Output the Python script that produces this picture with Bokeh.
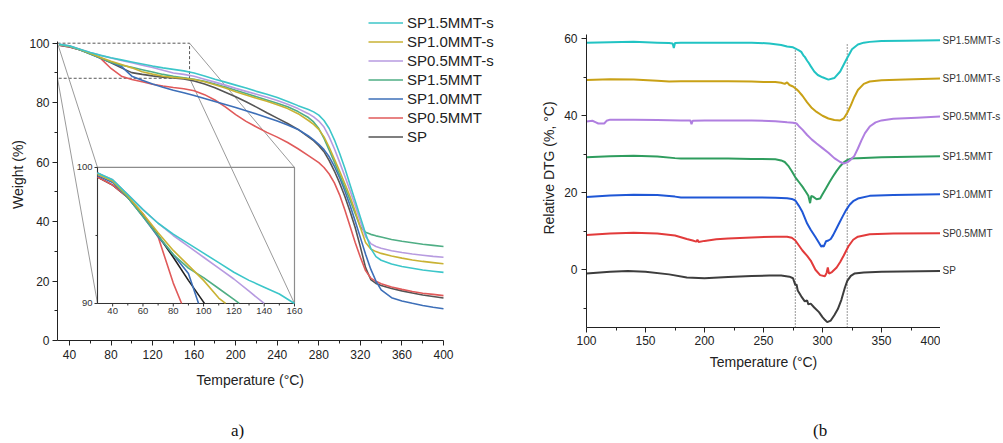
import math
from bokeh.plotting import figure
from bokeh.layouts import row, column
from bokeh.models import (Range1d, FixedTicker, Legend, LegendItem, Div, Title)
from bokeh.embed import file_html
from bokeh.resources import INLINE
from bokeh.core.properties import value

FONT = "Liberation Sans"
SERIF = "Liberation Serif"

# ---------------- data: TGA (panel a) ----------------
NAMES = ["SP1.5MMT-s", "SP1.0MMT-s", "SP0.5MMT-s", "SP1.5MMT", "SP1.0MMT", "SP0.5MMT", "SP"]

TGA_T = [30, 40, 50, 60, 70, 80, 90, 100, 110, 120, 130, 140, 150, 160,
         170, 180, 190, 200, 210, 220, 230, 240, 250, 260, 270,
         275, 280, 285, 290, 295, 300, 305, 310, 315, 320, 325, 330, 335, 340,
         350, 360, 370, 380, 390, 400]

TGA_SP15S = [99.6, 99.1, 98.0, 96.9, 95.9, 95.1, 94.4, 93.7, 93.0, 92.3, 91.7, 91.2, 90.7, 90.0,
             89.0, 87.9, 86.9, 85.9, 84.9, 83.8, 82.8, 81.7, 80.4, 79.0, 77.7,
             76.9, 75.8, 74.0, 71.3, 67.5, 63.0, 58.0, 52.5, 47.0, 41.5, 36.0, 31.0, 28.2, 27.0,
             25.7, 24.9, 24.3, 23.7, 23.3, 22.9]
TGA_SP10S = [99.5, 99.0, 97.9, 96.6, 95.2, 93.9, 92.8, 91.7, 90.4, 89.6, 88.9, 88.5, 88.2, 87.8,
             87.0, 86.0, 84.9, 83.7, 82.6, 81.5, 80.5, 79.3, 78.0, 76.3, 74.0,
             72.7, 71.0, 68.5, 65.0, 61.0, 57.0, 52.8, 48.5, 43.5, 38.0, 33.0, 30.8, 29.9, 29.3,
             28.4, 27.7, 27.1, 26.6, 26.2, 25.8]
TGA_SP05S = [99.6, 99.1, 98.0, 96.9, 95.9, 95.0, 94.2, 93.4, 92.6, 91.8, 90.9, 90.0, 89.5, 88.9,
             87.9, 86.9, 85.9, 84.8, 83.8, 82.8, 81.8, 80.7, 79.5, 78.0, 76.3,
             75.2, 73.8, 71.8, 68.5, 64.5, 60.0, 55.3, 50.5, 45.5, 40.0, 35.0, 32.6, 31.6, 31.0,
             30.2, 29.6, 29.1, 28.7, 28.3, 28.0]
TGA_SP15 = [99.6, 99.0, 97.8, 96.4, 95.0, 93.6, 92.6, 91.9, 91.1, 90.3, 89.5, 88.9, 88.4, 87.9,
            87.2, 86.3, 85.3, 84.2, 83.1, 82.0, 80.9, 79.8, 78.6, 77.0, 75.0,
            73.5, 71.3, 68.0, 64.0, 60.0, 55.8, 51.6, 47.3, 42.7, 38.2, 36.4, 35.7, 35.2, 34.8,
            34.0, 33.4, 32.9, 32.4, 32.0, 31.6]
TGA_SP10 = [99.4, 98.9, 97.8, 96.4, 94.9, 93.6, 92.2, 88.9, 87.5, 86.3, 85.2, 84.2, 83.3, 82.4,
            81.4, 80.4, 79.4, 78.4, 77.3, 76.2, 75.0, 73.8, 72.5, 71.0, 68.8,
            67.5, 66.0, 64.2, 61.8, 58.6, 54.8, 50.4, 45.5, 40.2, 34.6, 29.0, 24.0, 20.0, 17.0,
            14.4, 13.3, 12.5, 11.8, 11.2, 10.7]
TGA_SP05 = [99.3, 98.7, 97.8, 96.6, 94.9, 91.5, 88.9, 87.8, 87.0, 86.2, 85.6, 85.1, 84.7, 84.0,
            82.7, 80.9, 78.6, 76.0, 73.7, 71.8, 70.0, 68.4, 66.6, 64.5, 62.2,
            61.0, 59.8, 58.2, 56.0, 53.0, 49.0, 44.0, 38.5, 33.0, 28.0, 23.5, 21.0, 19.9, 19.1,
            18.0, 17.2, 16.5, 15.9, 15.5, 15.1]
TGA_SP = [99.3, 98.7, 97.8, 96.5, 95.0, 93.4, 91.7, 90.1, 89.5, 89.0, 88.6, 88.3, 88.0, 87.3,
          86.3, 85.0, 83.5, 82.0, 80.3, 78.5, 76.6, 74.8, 73.0, 71.0, 68.5,
          67.2, 65.5, 63.5, 60.5, 57.0, 53.0, 48.5, 43.5, 38.0, 31.5, 24.5, 20.5, 19.2, 18.5,
          17.5, 16.7, 16.0, 15.3, 14.8, 14.3]

TGA_SERIES = [TGA_SP15S, TGA_SP10S, TGA_SP05S, TGA_SP15, TGA_SP10, TGA_SP05, TGA_SP]
TGA_COLORS = ["#3cc6c9", "#c9b234", "#b79be0", "#4fae85", "#3d6fb8", "#e05a5a", "#555555"]

TGA_XTICKS = [40, 80, 120, 160, 200, 240, 280, 320, 360, 400]
TGA_XMINOR = [60, 100, 140, 180, 220, 260, 300, 340, 380]
TGA_YTICKS = [0, 20, 40, 60, 80, 100]
TGA_YMINOR = [10, 30, 50, 70, 90]

# inset (zoom of 30-160 °C, 90-100 %): temperature where each curve leaves the inset at 90 %
INSET_X = (30, 160)
INSET_Y = (90, 100)
INSET_END_T = [160, 114.5, 140, 123.5, 96.7, 85.5, 100.5]
INSET_XTICKS = [40, 60, 80, 100, 120, 140, 160]
INSET_XMINOR = [50, 70, 90, 110, 130, 150]
INSET_YTICKS = [90, 100]
INSET_YMINOR = [95]

# zoom box in main axes and where the inset frame sits in main-axis units
ZOOM_X = (28.5, 155.6)
ZOOM_Y = (88.2, 100.0)
INSET_AT_X = (67.0, 256.6)
INSET_AT_Y = (12.45, 58.2)

# ---------------- data: DTG (panel b) ----------------
DTG_T_SP15S = [100, 120, 140, 160, 170, 173, 174, 175, 180, 200, 220, 240, 255, 260, 265, 270, 275, 278,
               280, 282, 284, 285, 287, 288, 290, 293, 296, 300, 305, 310, 315, 320, 325, 330, 335, 340,
               350, 370, 400]
DTG_SP15S = [59.0, 59.1, 59.2, 59.0, 58.9, 58.8, 57.6, 58.9, 59.0, 59.0, 59.0, 59.0, 58.8, 58.6, 58.4, 58.0,
             57.8, 57.3, 57.0, 56.6, 55.6, 55.3, 54.3, 53.9, 52.9, 51.5, 50.6, 50.0, 49.4, 49.8, 51.5, 54.5,
             57.3, 58.5, 59.0, 59.2, 59.4, 59.5, 59.6]
DTG_T_SP10S = [100, 120, 140, 160, 170, 180, 200, 220, 240, 250, 260, 265, 268, 270, 272, 275, 278, 280,
               283, 287, 291, 295, 300, 305, 310, 315, 318, 321, 324, 327, 330, 335, 340, 350, 370, 400]
DTG_SP10S = [49.3, 49.5, 49.4, 49.1, 48.9, 49.0, 49.0, 49.0, 48.9, 48.8, 48.8, 48.6, 48.3, 48.7, 48.0, 47.6,
             46.9, 46.3, 45.2, 43.5, 42.0, 41.0, 40.0, 39.3, 38.9, 38.8, 39.3, 40.8, 42.7, 44.9, 46.7, 48.3,
             48.9, 49.2, 49.4, 49.7]
DTG_T_SP05S = [100, 105, 108, 110, 115, 117, 120, 140, 160, 180, 188, 189, 190, 200, 220, 240, 260, 270,
               275, 278, 280, 283, 287, 291, 295, 300, 305, 310, 315, 318, 321, 324, 327, 330, 333, 336,
               340, 345, 350, 360, 380, 400]
DTG_SP05S = [38.5, 38.7, 38.3, 38.0, 38.0, 38.7, 39.0, 39.0, 38.9, 38.8, 38.8, 37.8, 38.7, 38.8, 38.8, 38.8,
             38.6, 38.3, 38.2, 38.0, 37.3, 36.4, 35.0, 33.8, 32.8, 31.6, 30.4, 29.0, 28.0, 27.6, 27.9, 28.6,
             29.6, 31.5, 33.6, 35.5, 37.2, 38.3, 38.8, 39.2, 39.5, 39.8]
DTG_T_SP15 = [100, 120, 140, 160, 175, 180, 200, 220, 240, 260, 265, 268, 271, 274, 277, 280, 283, 286,
              288, 289.5, 290.5, 292, 295, 298, 300, 303, 306, 309, 312, 315, 318, 321, 325, 330, 350, 400]
DTG_SP15 = [29.2, 29.5, 29.6, 29.4, 29.0, 28.9, 28.9, 28.9, 28.8, 28.7, 28.4, 28.0, 27.0, 25.6, 24.0, 22.8,
            21.6, 20.2, 19.2, 17.3, 19.2, 19.0, 18.3, 18.5, 19.6, 21.2, 22.8, 24.3, 25.7, 26.9, 27.9, 28.5,
            28.9, 29.0, 29.2, 29.5]
DTG_T_SP10 = [100, 120, 140, 160, 175, 180, 200, 220, 240, 260, 270, 274, 277, 280, 283, 287, 290, 294,
              297, 299, 300, 301, 303, 305, 307, 309, 311, 314, 317, 320, 323, 326, 330, 340, 360, 400]
DTG_SP10 = [18.9, 19.3, 19.5, 19.4, 19.0, 18.8, 18.8, 18.8, 18.8, 18.7, 18.6, 18.4, 18.0, 16.6, 15.0, 12.0,
            10.4, 8.5, 7.0, 6.0, 6.3, 6.0, 7.4, 7.6, 8.0, 9.0, 10.2, 12.0, 13.8, 15.5, 16.9, 17.8, 18.5,
            19.2, 19.4, 19.6]
DTG_T_SP05 = [100, 120, 140, 160, 175, 185, 190, 193, 194, 195, 200, 210, 220, 240, 260, 270, 274, 277,
              280, 283, 287, 290, 294, 298, 302, 303.5, 304.5, 305.5, 308, 312, 315, 318, 322, 326, 330,
              340, 360, 400]
DTG_SP05 = [9.0, 9.4, 9.6, 9.4, 8.9, 8.0, 7.6, 7.3, 7.8, 7.2, 7.5, 7.9, 8.1, 8.4, 8.6, 8.6, 8.3, 7.6,
            6.3, 5.0, 3.6, 2.4, 0.0, -1.4, -1.7, -0.8, 0.6, -1.0, -0.6, 0.6, 2.0, 3.7, 6.1, 7.8, 8.6,
            9.2, 9.4, 9.5]
DTG_T_SP = [100, 120, 135, 150, 170, 185, 200, 220, 240, 255, 265, 272, 275, 277, 278, 279, 282, 285,
            287, 288, 290, 293, 297, 300, 302, 304, 307, 310, 313, 316, 319, 321, 324, 327, 335, 350, 400]
DTG_SP = [-1.0, -0.5, -0.3, -0.5, -1.2, -2.0, -2.2, -1.9, -1.6, -1.5, -1.5, -1.8, -2.2, -4.0, -3.8, -5.4,
          -6.9, -8.2, -8.0, -9.0, -8.8, -9.8, -11.0, -12.3, -13.0, -13.6, -13.2, -11.8, -10.2, -7.8, -4.6,
          -2.9, -1.6, -1.0, -0.7, -0.5, -0.3]

DTG_TS = [DTG_T_SP15S, DTG_T_SP10S, DTG_T_SP05S, DTG_T_SP15, DTG_T_SP10, DTG_T_SP05, DTG_T_SP]
DTG_VALS = [DTG_SP15S, DTG_SP10S, DTG_SP05S, DTG_SP15, DTG_SP10, DTG_SP05, DTG_SP]
DTG_COLORS = ["#21c3c3", "#c9a116", "#b07fe0", "#2f9d5e", "#1f57d6", "#e23b3b", "#3d3d3d"]

DTG_XTICKS = [100, 150, 200, 250, 300, 350, 400]
DTG_XMINOR = [125, 175, 225, 275, 325, 375]
DTG_YTICKS = [0, 20, 40, 60]
DTG_YMINOR = [-10, 10, 30, 50]
DTG_VLINES_X = [277, 321]
DTG_VLINES_TOP = [57.5, 58.5]

H = 409


def style_axes(p, tick_size="12px", tick_out=5, minor_out=3, color="#222222"):
    for ax in p.axis:
        ax.axis_line_color = color
        ax.major_tick_line_color = color
        ax.minor_tick_line_color = color
        ax.major_tick_in = 0
        ax.major_tick_out = tick_out
        ax.minor_tick_in = 0
        ax.minor_tick_out = minor_out
        ax.major_label_text_font = FONT
        ax.major_label_text_font_size = tick_size
        ax.major_label_text_color = color
        ax.axis_label_text_font = FONT
        ax.axis_label_text_font_size = "14px"
        ax.axis_label_text_font_style = "normal"
        ax.axis_label_text_color = color


# ---------------- panel a: main TGA ----------------
left = figure(width=500, height=H, x_range=Range1d(28.5, 454.87), y_range=Range1d(0, 111.67),
              output_backend="svg", toolbar_location=None, frame_align=False,
              min_border_left=57, min_border_right=0, min_border_top=8, min_border_bottom=H - 340)
left.outline_line_color = None
left.grid.visible = False

left.xaxis.ticker = FixedTicker(ticks=TGA_XTICKS, minor_ticks=TGA_XMINOR)
left.yaxis.ticker = FixedTicker(ticks=TGA_YTICKS, minor_ticks=TGA_YMINOR)
left.xaxis.bounds = (28.5, 400)
left.yaxis.bounds = (0, 100.5)
left.yaxis.axis_label = "Weight (%)"
style_axes(left)
left.xaxis.major_label_standoff = 4
left.yaxis.major_label_standoff = 3
left.yaxis.axis_label_standoff = 0
# x-axis title of panel a, centred under the 28.5-400 °C axis (the frame is wider, for the legend)
left.add_layout(Title(text="Temperature (°C)", align="left", offset=139, standoff=16,
                      text_font=FONT, text_font_size="14px", text_font_style="normal",
                      text_color="#222222"), "below")

# zoom box and connecting lines
left.quad(left=[ZOOM_X[0]], right=[ZOOM_X[1]], bottom=[ZOOM_Y[0]], top=[ZOOM_Y[1]],
          fill_alpha=0, line_color="#444444", line_dash="3 2", line_width=0.9)
left.segment(x0=[ZOOM_X[0], ZOOM_X[0], ZOOM_X[1], ZOOM_X[1]],
             y0=[ZOOM_Y[1], ZOOM_Y[0], ZOOM_Y[1], ZOOM_Y[0]],
             x1=[INSET_AT_X[0], INSET_AT_X[0], INSET_AT_X[1], INSET_AT_X[1]],
             y1=[INSET_AT_Y[1], INSET_AT_Y[0], INSET_AT_Y[1], INSET_AT_Y[0]],
             line_color="#9a9a9a", line_width=1)

renderers = {}
for name, vals, col in reversed(list(zip(NAMES, TGA_SERIES, TGA_COLORS))):
    renderers[name] = left.line(TGA_T, vals, line_color=col, line_width=1.6)

legend = Legend(items=[LegendItem(label=n, renderers=[renderers[n]]) for n in NAMES],
                location=(311, 194))
legend.label_text_font = FONT
legend.label_text_font_size = "15px"
legend.label_text_color = "#222222"
legend.glyph_width = 35
legend.glyph_height = 19
legend.label_height = 19
legend.label_standoff = 4
legend.spacing = 0
legend.padding = 0
legend.margin = 0
legend.border_line_color = None
legend.background_fill_alpha = 0
left.add_layout(legend)

# ---------------- inset, drawn in a sub-coordinate system of panel a ----------------
sub = left.subplot(x_source=Range1d(*INSET_X), y_source=Range1d(*INSET_Y),
                   x_target=Range1d(*INSET_AT_X), y_target=Range1d(*INSET_AT_Y))
sub.quad(left=[INSET_X[0]], right=[INSET_X[1]], bottom=[INSET_Y[0]], top=[INSET_Y[1]],
         fill_color="white", fill_alpha=0, line_color="#8c8c8c", line_width=1.2)
sub.segment(x0=[INSET_X[0], INSET_X[0]], y0=[INSET_Y[0], INSET_Y[0]],
            x1=[INSET_X[1], INSET_X[0]], y1=[INSET_Y[0], INSET_Y[1]],
            line_color="#333333", line_width=1)
sub.ray(x=INSET_XTICKS, y=[INSET_Y[0]] * len(INSET_XTICKS), length=3, length_units="screen",
        angle=-math.pi / 2, line_color="#333333", line_width=1)
sub.ray(x=INSET_XMINOR, y=[INSET_Y[0]] * len(INSET_XMINOR), length=2, length_units="screen",
        angle=-math.pi / 2, line_color="#333333", line_width=1)
sub.ray(x=[INSET_X[0]] * len(INSET_YTICKS), y=INSET_YTICKS, length=3, length_units="screen",
        angle=math.pi, line_color="#333333", line_width=1)
sub.ray(x=[INSET_X[0]] * len(INSET_YMINOR), y=INSET_YMINOR, length=2, length_units="screen",
        angle=math.pi, line_color="#333333", line_width=1)
sub.text(x=INSET_XTICKS, y=[INSET_Y[0]] * len(INSET_XTICKS), text=[str(t) for t in INSET_XTICKS],
         y_offset=5, text_align="center", text_baseline="top", text_font=value(FONT),
         text_font_size="9.5px", text_color="#333333")
sub.text(x=[INSET_X[0]] * len(INSET_YTICKS), y=INSET_YTICKS, text=[str(t) for t in INSET_YTICKS],
         x_offset=-5, text_align="right", text_baseline="middle", text_font=value(FONT),
         text_font_size="9.5px", text_color="#333333")
for name, vals, col, t_end in reversed(list(zip(NAMES, TGA_SERIES, TGA_COLORS, INSET_END_T))):
    xs = [t for t in TGA_T if t < t_end] + [t_end]
    ys = [v for t, v in zip(TGA_T, vals) if t < t_end] + [INSET_Y[0]]
    sub.line(xs, ys, line_color=("#222222" if name == "SP" else col), line_width=1.6)

# ---------------- panel b: DTG ----------------
right = figure(width=440, height=H, x_range=Range1d(100, 400), y_range=Range1d(-15, 67.87),
               output_backend="svg", toolbar_location=None, frame_align=False,
               min_border_left=86, min_border_right=0, min_border_top=8, min_border_bottom=H - 327)
right.outline_line_color = None
right.grid.visible = False
right.xaxis.ticker = FixedTicker(ticks=DTG_XTICKS, minor_ticks=DTG_XMINOR)
right.yaxis.ticker = FixedTicker(ticks=DTG_YTICKS, minor_ticks=DTG_YMINOR)
right.yaxis.bounds = (-15, 61)
right.xaxis.axis_label = "Temperature (°C)"
right.yaxis.axis_label = "Relative DTG (%, °C)"
style_axes(right)
right.xaxis.major_label_standoff = 3
right.xaxis.axis_label_standoff = 6
right.yaxis.major_label_standoff = 4
right.yaxis.axis_label_standoff = 4

right.segment(x0=DTG_VLINES_X, x1=DTG_VLINES_X, y0=[-15, -15], y1=DTG_VLINES_TOP,
              line_color="#555555", line_dash="1 2", line_width=1.2)

for ts, vals, col in reversed(list(zip(DTG_TS, DTG_VALS, DTG_COLORS))):
    right.line(ts, vals, line_color=col, line_width=2)

# curve names at the right end of each DTG curve (shares the DTG y scale)
names_fig = figure(width=63, height=H, x_range=Range1d(0, 1), y_range=right.y_range,
                   output_backend="svg", toolbar_location=None, frame_align=False,
                   x_axis_location=None, y_axis_location=None,
                   min_border_left=0, min_border_right=0, min_border_top=8, min_border_bottom=H - 327)
names_fig.outline_line_color = None
names_fig.grid.visible = False
names_fig.text(x=[0] * len(NAMES), y=[v[-1] for v in DTG_VALS], text=NAMES, x_offset=2,
               text_font=value(FONT), text_font_size="10px", text_baseline="middle",
               text_align="left", text_color="#333333")

# panel captions
cap_a = Div(text="<div style=\"padding:12px 0 0 231px;font-family:'Liberation Serif';font-size:17px;"
                 "line-height:20px;color:#111\">a)</div>", width=500, height=33, margin=(0, 0, 0, 0))
cap_b = Div(text="<div style=\"padding:12px 0 0 313px;font-family:'Liberation Serif';font-size:17px;"
                 "line-height:20px;color:#111\">(b</div>", width=503, height=33, margin=(0, 0, 0, 0))

page = column(row(left, right, names_fig, spacing=0), row(cap_a, cap_b, spacing=0), spacing=0)
open("out.html", "w").write(file_html(page, INLINE))
